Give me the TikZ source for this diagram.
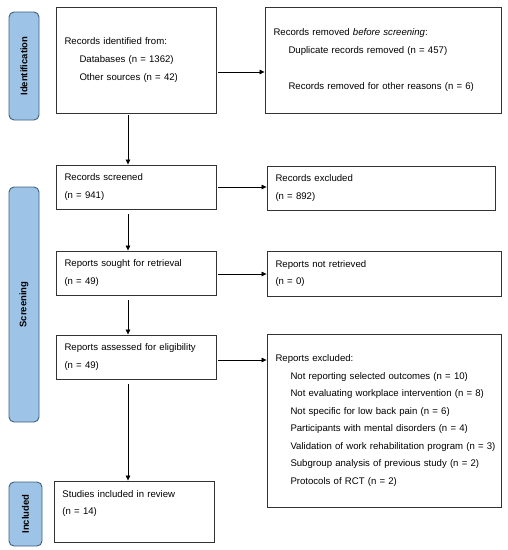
\documentclass[tikz,border=0pt]{standalone}
\usepackage{fontspec}
\setmainfont{Liberation Sans}
\usetikzlibrary{arrows.meta}
\definecolor{pillfill}{HTML}{9DC3E6}
\definecolor{pilldraw}{HTML}{3F5F80}
\definecolor{boxdraw}{HTML}{333333}
\tikzset{
  box/.style={draw=boxdraw, line width=0.9pt, fill=white, rectangle, align=left,
    inner xsep=8.5pt, inner ysep=0pt, font=\fontsize{9.6}{17.8}\selectfont},
  pill/.style={draw=pilldraw, line width=0.9pt, fill=pillfill, rounded corners=5pt,
    rotate=90, inner sep=0pt, font=\fontsize{9.5}{11}\selectfont\bfseries},
  arr/.style={-{Triangle[length=5pt,width=4.5pt]}, line width=0.7pt, black},
}
\newcommand{\ind}{\hspace*{15pt}}
\begin{document}
\begin{tikzpicture}[x=1pt,y=-1pt]
\useasboundingbox (0,0) rectangle (508,550);
% phase pills
\node[pill, minimum width=108pt, minimum height=30pt] (pid) at (24,66) {Identification};
\node[pill, minimum width=235pt, minimum height=30pt] (psc) at (24,304.5) {Screening};
\node[pill, minimum width=64pt, minimum height=33pt] (pin) at (25.5,514) {Included};
% boxes
\node[box, minimum width=160pt, minimum height=106pt, text width=143pt] (b1) at (136,60)
  {Records identified from:\\\ind Databases (n = 1362)\\\ind Other sources (n = 42)};
\node[box, minimum width=236pt, minimum height=106pt, text width=219pt] (b2) at (383,60)
  {Records removed \textit{before screening}:\\\ind Duplicate records removed (n = 457)\\[17.8pt]\ind Records removed for other reasons (n = 6)};
\node[box, minimum width=160pt, minimum height=44pt, text width=143pt] (b3) at (136,187)
  {Records screened\\(n = 941)};
\node[box, minimum width=228pt, minimum height=44pt, text width=211pt] (b4) at (381,188)
  {Records excluded\\(n = 892)};
\node[box, minimum width=160pt, minimum height=44pt, text width=143pt] (b5) at (136,273)
  {Reports sought for retrieval\\(n = 49)};
\node[box, minimum width=234pt, minimum height=45pt, text width=217pt] (b6) at (384,273.5)
  {Reports not retrieved\\(n = 0)};
\node[box, minimum width=160pt, minimum height=44pt, text width=143pt] (b7) at (136,357)
  {Reports assessed for eligibility\\(n = 49)};
\node[box, minimum width=234pt, minimum height=173pt, text width=217pt,
  font=\fontsize{9.6}{17.5}\selectfont] (b8) at (384,420.5)
  {Reports excluded:\\
   \ind Not reporting selected outcomes (n = 10)\\
   \ind Not evaluating workplace intervention (n = 8)\\
   \ind Not specific for low back pain (n = 6)\\
   \ind Participants with mental disorders (n = 4)\\
   \ind \mbox{Validation of work rehabilitation program (n = 3)}\\
   \ind Subgroup analysis of previous study (n = 2)\\
   \ind Protocols of RCT (n = 2)};
\node[box, minimum width=160pt, minimum height=61pt, text width=143pt] (b9) at (134,511.5)
  {Studies included in review\\(n = 14)\\\mbox{}};
% vertical connectors
\draw[arr, shorten <=2pt] ([xshift=-8pt]b1.south) -- ([xshift=-8pt]b1.south |- b3.north);
\draw[arr, shorten <=5pt] ([xshift=-8pt]b3.south) -- ([xshift=-8pt]b3.south |- b5.north);
\draw[arr, shorten <=5pt] ([xshift=-8pt]b5.south) -- ([xshift=-8pt]b5.south |- b7.north);
\draw[arr, shorten <=5pt] ([xshift=-8pt]b7.south) -- ([xshift=-8pt]b7.south |- b9.north);
% horizontal connectors
\draw[arr, shorten <=2pt] ([yshift=-12pt]b1.east) -- ([yshift=-12pt]b1.east -| b2.west);
\draw[arr, shorten <=2pt] (b3.east) -- (b3.east -| b4.west);
\draw[arr, shorten <=2pt] ([yshift=-1pt]b5.east) -- ([yshift=-1pt]b5.east -| b6.west);
\draw[arr, shorten <=2pt] ([yshift=-3pt]b7.east) -- ([yshift=-3pt]b7.east -| b8.west);
\end{tikzpicture}
\end{document}
